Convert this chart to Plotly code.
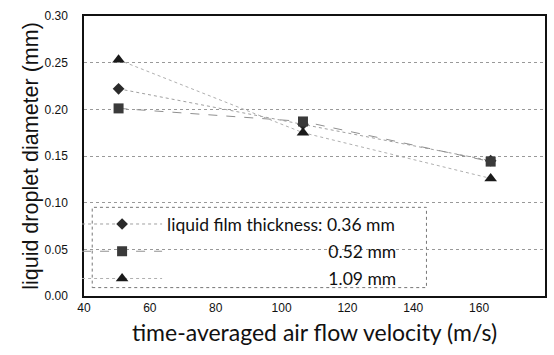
import plotly.graph_objects as go

velocity = [50.5, 106.5, 163.5]
d_036 = [0.222, 0.184, 0.145]
d_052 = [0.201, 0.187, 0.144]
d_109 = [0.253, 0.175, 0.126]
names = ["liquid film thickness:\u00a00.36 mm",
         "\u00a0" * 36 + "0.52 mm",
         "\u00a0" * 36 + "1.09 mm"]

fig = go.Figure()
fig.add_trace(go.Scatter(x=velocity, y=d_036, name=names[0], mode="lines+markers", legendgroup="a",
                         line=dict(color="#a0a0a0", width=1, dash="dot"),
                         marker=dict(symbol="diamond", size=9, color="#2a2a2a")))
fig.add_trace(go.Scatter(x=velocity, y=d_052, name=names[1], mode="lines+markers", legendgroup="b",
                         line=dict(color="#909090", width=1, dash="dash"),
                         marker=dict(symbol="square", size=10, color="#3a3a3a")))
fig.add_trace(go.Scatter(x=velocity, y=d_109, name=names[2], mode="lines+markers", legendgroup="c",
                         line=dict(color="#b0b0b0", width=1, dash="dot"),
                         marker=dict(symbol="triangle-up", size=11, color="#1a1a1a")))

fig.add_shape(type="rect", xref="x", yref="y", x0=42.5, x1=144.0, y0=0.009, y1=0.095,
              line=dict(color="#777777", width=1, dash="dot"), fillcolor="white", layer="below")

fig.update_layout(
    width=554, height=355,
    margin=dict(l=84, r=9, t=16, b=59),
    paper_bgcolor="white", plot_bgcolor="white",
    font=dict(family="Liberation Sans", color="#111111"),
    showlegend=True,
    legend=dict(x=-0.015, y=0.321, xanchor="left", yanchor="top",
                bgcolor="rgba(0,0,0,0)", font=dict(family="Lato", size=17.5, color="#111111"),
                tracegroupgap=1.5, itemwidth=80),
    xaxis=dict(range=[40, 180], dtick=20, showgrid=False, zeroline=False, automargin=False,
               showline=True, linecolor="#111111", linewidth=1.5, mirror=True,
               ticks="", tickfont=dict(size=12, family="Liberation Sans"),
               title=dict(text="time-averaged air flow velocity (m/s)",
                          font=dict(family="Lato", size=23), standoff=11)),
    yaxis=dict(range=[0, 0.30], dtick=0.05, tickformat=".2f", automargin=False,
               showgrid=True, gridcolor="#999999", griddash="dot", gridwidth=1,
               zeroline=False, showline=True, linecolor="#111111", linewidth=1.5, mirror=True,
               ticks="", ticklabelstandoff=12, tickfont=dict(size=12, family="Liberation Sans"),
               title=dict(text="liquid droplet diameter (mm)",
                          font=dict(family="Liberation Sans", size=21.5), standoff=0)),
)
fig.write_html("out.html", config={"displayModeBar": False},
               post_script="document.body.style.margin='0px';")
